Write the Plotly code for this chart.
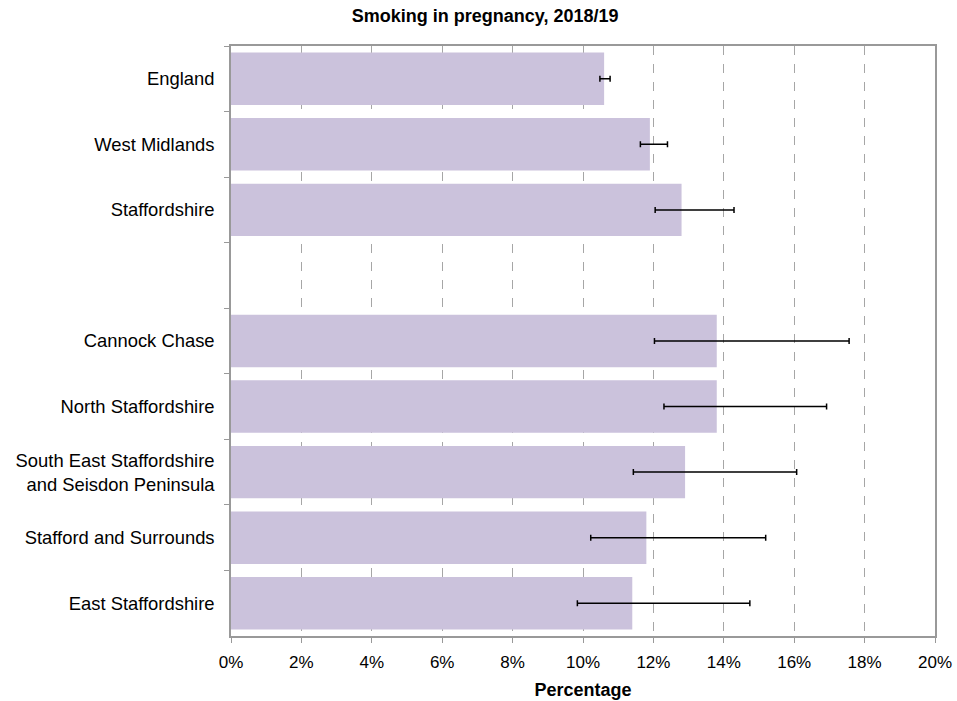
import plotly.graph_objects as go

areas = ["England", "West Midlands", "Staffordshire", " ",
         "Cannock Chase", "North Staffordshire",
         "South East Staffordshire<br>and Seisdon Peninsula",
         "Stafford and Surrounds", "East Staffordshire"]
value = [10.6, 11.9, 12.8, None, 13.8, 13.8, 12.9, 11.8, 11.4]
lower = [10.48, 11.63, 12.05, None, 12.03, 12.3, 11.43, 10.22, 9.84]
upper = [10.77, 12.4, 14.29, None, 17.56, 16.92, 16.07, 15.19, 14.74]

plus = [None if v is None else u - v for v, u in zip(value, upper)]
minus = [None if v is None else v - l for v, l in zip(value, lower)]

fig = go.Figure(go.Bar(
    y=areas, x=value, orientation="h",
    marker=dict(color="#cbc2dc", line=dict(width=0)),
    error_x=dict(type="data", symmetric=False, array=plus, arrayminus=minus,
                 color="black", thickness=1.5, width=3),
    hoverinfo="x+y",
))

fig.update_layout(
    width=957, height=701,
    margin=dict(l=231, r=22, t=46, b=65),
    plot_bgcolor="white", paper_bgcolor="white",
    font=dict(family="Liberation Sans, Arial", size=18, color="black"),
    title=dict(text="<b>Smoking in pregnancy, 2018/19</b>", x=0.507, xref="container",
               xanchor="center", y=0.977, yanchor="middle",
               font=dict(size=18)),
    bargap=0.2,
    showlegend=False,
)
fig.update_xaxes(
    range=[0, 20], dtick=2, ticksuffix="%",
    showgrid=True, gridcolor="#a6a6a6", griddash="dash", gridwidth=1,
    showline=True, linecolor="#999", linewidth=1.5, mirror=True,
    ticks="outside", ticklen=5, tickcolor="#999",
    zeroline=False, automargin=False,
    tickfont=dict(size=17), ticklabelstandoff=5,
    title=dict(text="<b>Percentage</b>", standoff=12, font=dict(size=18)),
)
fig.update_yaxes(
    categoryorder="array", categoryarray=areas, autorange="reversed",
    showline=True, linecolor="#999", linewidth=1.5, mirror=True,
    ticks="outside", ticklen=5, tickcolor="#999", tickson="boundaries",
    showgrid=False, tickfont=dict(size=18.4), ticklabelstandoff=11,
    automargin=False,
)

# drop the default 8px body margin so the figure fills the window exactly
fig.write_html("out.html", config={"displayModeBar": False},
               post_script="document.body.style.margin='0';")
